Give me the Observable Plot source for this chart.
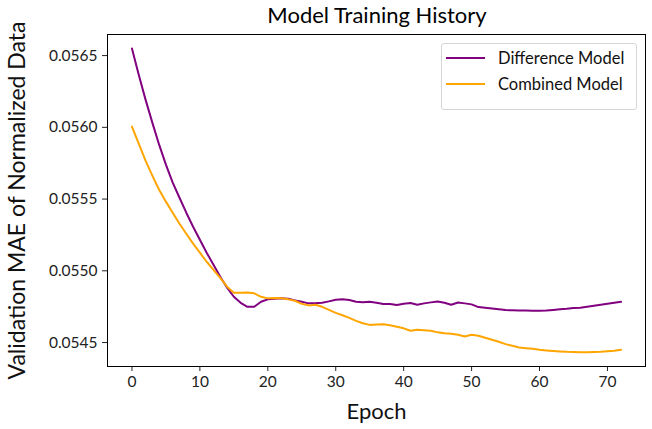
<!DOCTYPE html>
<html><head><meta charset="utf-8">
<script src="https://cdn.jsdelivr.net/npm/d3@7"></script>
<script src="https://cdn.jsdelivr.net/npm/@observablehq/plot@0.6"></script>
<style>
body{margin:0;background:#fff;font-family:Lato,"Open Sans",sans-serif;}
#wrap{position:relative;width:652px;height:429px;background:#fff;}
#chart{position:absolute;left:0;top:0;}
#title{position:absolute;left:102px;top:0;height:30px;line-height:30px;font-size:22px;color:#000;width:550px;text-align:center;}
#legend{position:absolute;left:441px;top:43px;width:196px;height:67px;border:1px solid #d6d6d6;border-radius:3px;background:rgba(255,255,255,0.8);box-sizing:border-box;}
.li{position:absolute;left:0;height:22px;line-height:22px;font-size:16.5px;color:#111;white-space:nowrap;}
.sw{position:absolute;left:4px;width:39px;height:2px;top:10px;}
.lt{position:absolute;left:56px;top:0;}
</style></head><body>
<div id="wrap">
<div id="chart"></div>
<div id="title">Model Training History</div>
<div id="legend"></div>
</div>
<script>
const epochs = [0,1,2,3,4,5,6,7,8,9,10,11,12,13,14,15,16,17,18,19,20,21,22,23,24,25,26,27,28,29,30,31,32,33,34,35,36,37,38,39,40,41,42,43,44,45,46,47,48,49,50,51,52,53,54,55,56,57,58,59,60,61,62,63,64,65,66,67,68,69,70,71,72];
const differenceModel = [0.056549,0.056367,0.056193,0.056033,0.055879,0.055740,0.055614,0.055509,0.055405,0.055307,0.055216,0.055126,0.055042,0.054958,0.054882,0.054819,0.054777,0.054749,0.054749,0.054784,0.054801,0.054805,0.054808,0.054805,0.054794,0.054784,0.054773,0.054773,0.054777,0.054787,0.054798,0.054801,0.054796,0.054784,0.054780,0.054784,0.054777,0.054768,0.054768,0.054761,0.054770,0.054775,0.054763,0.054773,0.054780,0.054786,0.054777,0.054763,0.054779,0.054773,0.054766,0.054747,0.054742,0.054738,0.054732,0.054726,0.054725,0.054724,0.054723,0.054721,0.054721,0.054723,0.054727,0.054732,0.054735,0.054740,0.054743,0.054749,0.054756,0.054763,0.054770,0.054777,0.054784];
const combinedModel = [0.056005,0.055886,0.055768,0.055663,0.055565,0.055482,0.055405,0.055328,0.055258,0.055189,0.055126,0.055063,0.055007,0.054951,0.054889,0.054847,0.054847,0.054849,0.054843,0.054819,0.054808,0.054810,0.054808,0.054801,0.054791,0.054770,0.054759,0.054763,0.054749,0.054728,0.054707,0.054690,0.054672,0.054651,0.054634,0.054623,0.054625,0.054628,0.054620,0.054610,0.054599,0.054582,0.054589,0.054585,0.054582,0.054571,0.054564,0.054561,0.054554,0.054542,0.054554,0.054547,0.054533,0.054519,0.054505,0.054489,0.054477,0.054466,0.054461,0.054456,0.054449,0.054445,0.054441,0.054438,0.054435,0.054434,0.054433,0.054433,0.054434,0.054435,0.054439,0.054443,0.054449];
const seriesNames = ["Difference Model","Combined Model"];
const seriesColors = ["#800080","#FFA500"];
const xTicks = [0,10,20,30,40,50,60,70];
const yTicks = [0.0545,0.0550,0.0555,0.0560,0.0565];

const rows = [];
[differenceModel, combinedModel].forEach((vals, s) => {
  epochs.forEach((e, i) => rows.push({epoch: e, value: vals[i], series: seriesNames[s]}));
});

const chart = Plot.plot({
  width: 652,
  height: 429,
  marginLeft: 107,
  marginRight: 7,
  marginTop: 34,
  marginBottom: 63,
  style: {fontFamily: "Lato, 'Open Sans', sans-serif", fontSize: "15.5px", color: "#222", background: "#fff"},
  x: {domain: [-3.6, 75.6], ticks: xTicks, tickSize: 5, tickPadding: 4, label: "Epoch", labelAnchor: "center", labelArrow: "none", labelOffset: 52},
  y: {domain: [0.054333, 0.056647], ticks: yTicks, tickSize: 5, tickPadding: 5, tickFormat: d3.format(".4f"), label: "Validation MAE of Normalized Data", labelAnchor: "center", labelArrow: "none", labelOffset: 99},
  color: {domain: seriesNames, range: seriesColors},
  marks: [
    Plot.line(rows, {x: "epoch", y: "value", z: "series", stroke: "series", strokeWidth: 2}),
    Plot.frame({stroke: "#000", strokeWidth: 1})
  ]
});
document.getElementById("chart").appendChild(chart);
d3.select(chart).selectAll("[aria-label='x-axis label'] text").style("font-size","22px").style("fill","#111");
d3.select(chart).selectAll("[aria-label='y-axis label'] text").style("font-size","23px").style("fill","#111");

const leg = d3.select("#legend");
seriesNames.forEach((n, i) => {
  const it = leg.append("div").attr("class","li").style("top", (3 + i*26) + "px").style("width","190px");
  it.append("div").attr("class","sw").style("background", seriesColors[i]);
  it.append("div").attr("class","lt").text(n);
});
</script>
</body></html>
